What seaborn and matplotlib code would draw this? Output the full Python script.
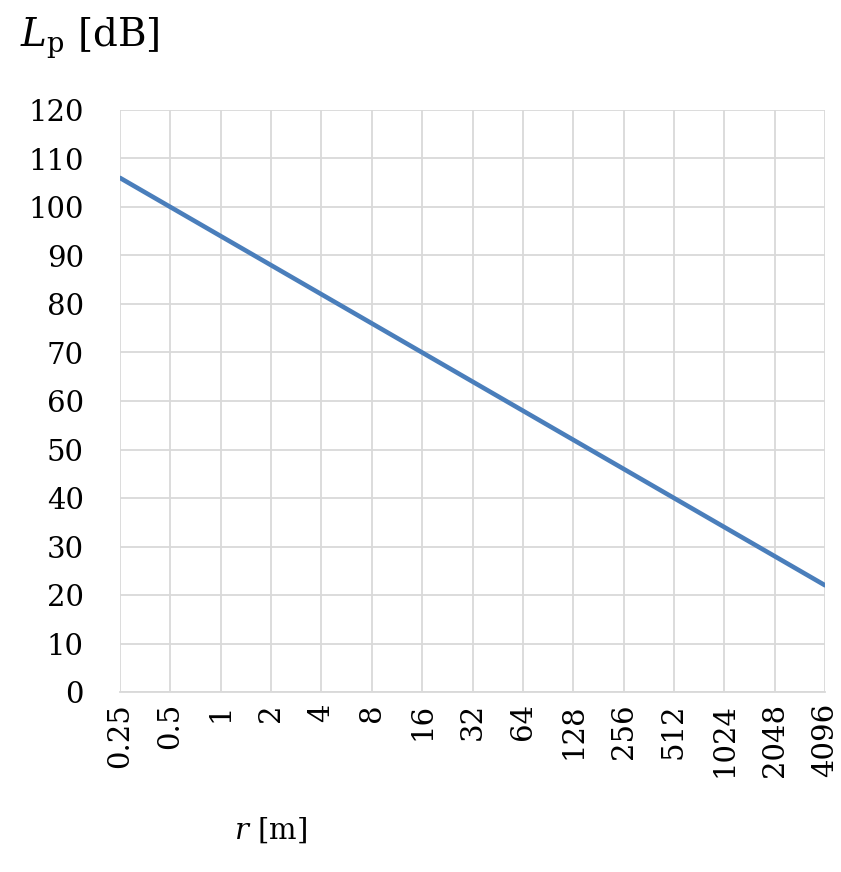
import numpy as np
import pandas as pd
import matplotlib
matplotlib.use("Agg")
import matplotlib.pyplot as plt
import seaborn as sns

# Data
distances = ["0.25", "0.5", "1", "2", "4", "8", "16", "32", "64",
             "128", "256", "512", "1024", "2048", "4096"]
levels_db = [106, 100, 94, 88, 82, 76, 70, 64, 58, 52, 46, 40, 34, 28, 22]
y_ticks = [0, 10, 20, 30, 40, 50, 60, 70, 80, 90, 100, 110, 120]

sns.set_theme(style="white")
plt.rcParams["font.family"] = ["DejaVu Serif"]
plt.rcParams["mathtext.fontset"] = "dejavuserif"
plt.rcParams["text.color"] = "black"
plt.rcParams["xtick.color"] = "black"
plt.rcParams["ytick.color"] = "black"

df = pd.DataFrame({"pos": np.arange(len(distances)), "level": levels_db})

fig = plt.figure(figsize=(8.41, 8.72), dpi=100)
ax = fig.add_axes([120/841, 1 - 692/872, (825-120)/841, (692-110)/872])

sns.lineplot(data=df, x="pos", y="level", ax=ax, color="#4A7EBB",
             linewidth=3.3, sort=False)

ax.set_xlim(0, len(distances) - 1)
ax.set_ylim(0, 120)
ax.set_xticks(df["pos"])
ax.set_xticklabels(distances, rotation=90, fontsize=21, color="black")
ax.set_yticks(y_ticks)
ax.set_yticklabels([str(v) for v in y_ticks], fontsize=21, color="black")
ax.tick_params(axis="x", length=0, pad=8)
ax.tick_params(axis="y", length=0, pad=26)
ax.set_xlabel("")
ax.set_ylabel("")

ax.grid(True, color="#D9D9D9", linewidth=1.3)
ax.set_axisbelow(True)
for s in ["top", "right", "left"]:
    ax.spines[s].set_visible(False)
ax.spines["bottom"].set_color("#D9D9D9")
ax.spines["bottom"].set_linewidth(1.3)

fig.text(20/841, 1 - 38/872, r"$L_\mathrm{p}$ [dB]", fontsize=28,
         ha="left", va="center", color="black")
fig.text(271/841, 1 - 830/872, r"$r$ [m]", fontsize=21,
         ha="center", va="center", color="black")

fig.savefig("out.png", dpi=100, facecolor="white")
